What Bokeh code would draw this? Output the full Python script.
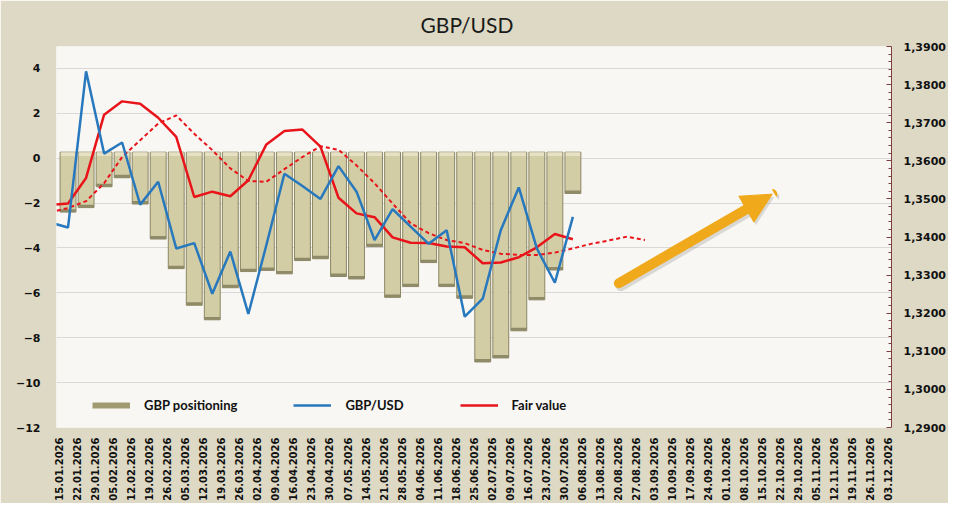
import math
from bokeh.plotting import figure
from bokeh.models import (Range1d, LinearAxis, SingleIntervalTicker, FixedTicker,
                          CustomJSTickFormatter, Legend, LegendItem, Arrow, NormalHead)
from bokeh.embed import file_html
from bokeh.resources import INLINE

# weekly dates on the x axis
dates = ["15.01.2026", "22.01.2026", "29.01.2026", "05.02.2026", "12.02.2026", "19.02.2026",
         "26.02.2026", "05.03.2026", "12.03.2026", "19.03.2026", "26.03.2026", "02.04.2026",
         "09.04.2026", "16.04.2026", "23.04.2026", "30.04.2026", "07.05.2026", "14.05.2026",
         "21.05.2026", "28.05.2026", "04.06.2026", "11.06.2026", "18.06.2026", "25.06.2026",
         "02.07.2026", "09.07.2026", "16.07.2026", "23.07.2026", "30.07.2026", "06.08.2026",
         "13.08.2026", "20.08.2026", "27.08.2026", "03.09.2026", "10.09.2026", "17.09.2026",
         "24.09.2026", "01.10.2026", "08.10.2026", "15.10.2026", "22.10.2026", "29.10.2026",
         "05.11.2026", "12.11.2026", "19.11.2026", "26.11.2026", "03.12.2026"]

# GBP positioning (left axis), from 15.01.2026
positioning = [-2.4, -2.2, -1.27, -0.87, -2.04, -3.6, -4.92, -6.55, -7.2, -5.77,
               -5.05, -5.0, -5.15, -4.56, -4.48, -5.27, -5.38, -3.94, -6.2, -5.72,
               -4.65, -5.72, -6.24, -9.08, -8.9, -7.69, -6.31, -4.98, -1.57]

# price lines (right axis), starting one week earlier (08.01.2026)
gbpusd = [1.3438, 1.3425, 1.3835, 1.3619, 1.3648, 1.3485, 1.3545, 1.3370, 1.3384, 1.3251,
          1.3362, 1.3198, 1.3379, 1.3566, 1.3534, 1.3500, 1.3586, 1.3519, 1.3392, 1.3473,
          1.3427, 1.3382, 1.3418, 1.3191, 1.3238, 1.3418, 1.3530, 1.3370, 1.3280, 1.3453]
fair_value = [1.3484, 1.3488, 1.3555, 1.3721, 1.3756, 1.3750, 1.3713, 1.3663, 1.3505, 1.3519,
              1.3507, 1.3549, 1.3643, 1.3678, 1.3682, 1.3637, 1.3503, 1.3462, 1.3452, 1.3399,
              1.3385, 1.3384, 1.3375, 1.3373, 1.3331, 1.3333, 1.3347, 1.3373, 1.3408, 1.3394]
fair_trend = [1.3465, 1.3476, 1.3494, 1.3541, 1.3610, 1.3654, 1.3698, 1.3719, 1.3671, 1.3628,
              1.3580, 1.3547, 1.3545, 1.3578, 1.3610, 1.3638, 1.3629, 1.3588, 1.3541, 1.3488,
              1.3436, 1.3410, 1.3392, 1.3384, 1.3366, 1.3356, 1.3353, 1.3353, 1.3359, 1.3370,
              1.3382, 1.3391, 1.3401, 1.3392]

price_ticks = [1.29, 1.30, 1.31, 1.32, 1.33, 1.34, 1.35, 1.36, 1.37, 1.38, 1.39]

bar_x = [i + 0.5 for i in range(len(positioning))]
line_x = [i - 0.5 for i in range(len(gbpusd))]
trend_x = [i - 0.5 for i in range(len(fair_trend))]

BAR_TOP = 0.27
BAR_FILL = "#D3CDA5"
BAR_EDGE = "#8C8764"

p = figure(frame_width=835, frame_height=381, output_backend="svg", toolbar_location=None,
           x_range=Range1d(-0.14, 46.17), y_range=Range1d(-12, 4.98),
           min_border_left=56, min_border_right=57, min_border_top=46, min_border_bottom=68,
           background_fill_color="#F8F7F3", border_fill_color="#DDD9C4",
           outline_line_color=None)
p.extra_y_ranges = {"price": Range1d(1.29, 1.390001)}

p.title.text = "GBP/USD"
p.title.align = "left"
p.title.offset = 364
p.title.standoff = 16
p.title.vertical_align = "top"
p.title.text_font = "Lato"
p.title.text_font_size = "21px"
p.title.text_font_style = "normal"
p.title.text_color = "#1A1A1A"

# bars with a simple bevel look
p.vbar(x=bar_x, top=BAR_TOP, bottom=positioning, width=0.88,
       fill_color=BAR_FILL, line_color=BAR_EDGE, line_width=1)
p.vbar(x=bar_x, top=BAR_TOP, bottom=0.1, width=0.8, fill_color="#E6E1C4", line_color=None)
p.vbar(x=bar_x, top=[v + 0.13 for v in positioning], bottom=positioning, width=0.88,
       fill_color="#8F8A68", line_color=None)

trend = p.line(trend_x, fair_trend, y_range_name="price", line_color="#E8141A",
               line_width=2, line_dash="4 3")
fair = p.line(line_x, fair_value, y_range_name="price", line_color="#E8141A", line_width=2.5)
blue = p.line(line_x, gbpusd, y_range_name="price", line_color="#2878BD", line_width=2.5)
swatch = p.line([float("nan")], [float("nan")], line_color="#A19B72", line_width=6)

# axes
p.yaxis.ticker = SingleIntervalTicker(interval=2)
p.ygrid.ticker = SingleIntervalTicker(interval=2)
p.ygrid.grid_line_color = "#D9D9D9"
p.xgrid.grid_line_color = None
for ax in [p.yaxis[0], p.xaxis[0]]:
    ax.axis_line_color = None
    ax.major_tick_line_color = None
    ax.minor_tick_line_color = None
    ax.major_label_text_font = "DejaVu Sans"
    ax.major_label_text_font_style = "bold"
    ax.major_label_text_color = "#111111"
p.yaxis.major_label_text_font_size = "11px"
p.yaxis.major_label_standoff = 10
p.xaxis.ticker = FixedTicker(ticks=list(range(len(dates))))
p.xaxis.major_label_overrides = {i: d for i, d in enumerate(dates)}
p.xaxis.major_label_orientation = math.pi / 2
p.xaxis.major_label_text_font_size = "10px"
p.xaxis.major_label_standoff = 4

right = LinearAxis(y_range_name="price",
                   ticker=FixedTicker(ticks=price_ticks,
                                      minor_ticks=[t + 0.002 * k for t in price_ticks[:-1]
                                                   for k in range(1, 5)]),
                   formatter=CustomJSTickFormatter(code="return tick.toFixed(4).replace('.', ',');"))
right.axis_line_color = "#7F3F3F"
right.major_tick_line_color = "#7F3F3F"
right.minor_tick_line_color = "#7F3F3F"
right.major_tick_in = 5
right.major_tick_out = 0
right.minor_tick_in = 3
right.minor_tick_out = 0
right.major_label_standoff = 12
right.major_label_text_font = "DejaVu Sans"
right.major_label_text_font_style = "bold"
right.major_label_text_font_size = "11px"
right.major_label_text_color = "#111111"
p.add_layout(right, "right")

legend = Legend(items=[LegendItem(label="GBP positioning", renderers=[swatch]),
                       LegendItem(label="GBP/USD", renderers=[blue]),
                       LegendItem(label="Fair value", renderers=[fair])],
                location=(36, 14), orientation="horizontal", spacing=56,
                glyph_width=38, glyph_height=16, label_height=16, label_standoff=14,
                padding=0, margin=0, background_fill_alpha=0, border_line_color=None,
                label_text_font="Lato", label_text_font_style="bold",
                label_text_font_size="13px", label_text_color="#111111")
p.add_layout(legend)

# orange trend arrow
p.add_layout(Arrow(x_start=31.16, y_start=-5.7, x_end=39.67, y_end=-1.73,
                   line_color="#7A7A7A", line_alpha=0.25, line_width=10, line_cap="round",
                   end=NormalHead(size=30, fill_color="#7A7A7A", fill_alpha=0.25, line_color=None)))
p.add_layout(Arrow(x_start=31.05, y_start=-5.57, x_end=39.56, y_end=-1.6,
                   line_color="#EFA91A", line_width=10, line_cap="round",
                   end=NormalHead(size=30, fill_color="#EFA91A", line_color="#EFA91A")))

open("out.html", "w").write(file_html(p, INLINE))
